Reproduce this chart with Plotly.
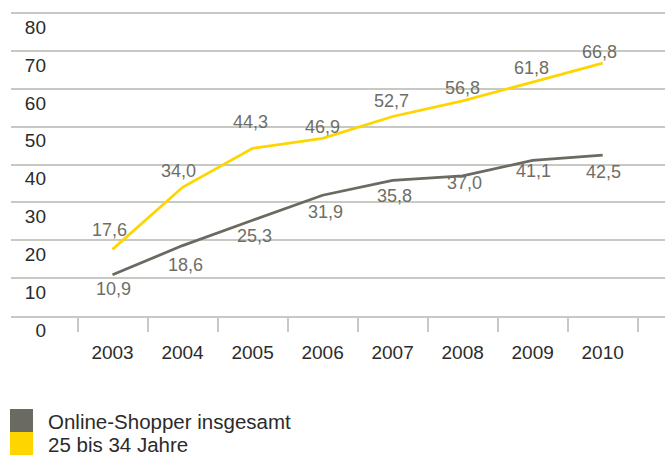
import plotly.graph_objects as go

years = ["2003", "2004", "2005", "2006", "2007", "2008", "2009", "2010"]
total = [10.9, 18.6, 25.3, 31.9, 35.8, 37.0, 41.1, 42.5]
young = [17.6, 34.0, 44.3, 46.9, 52.7, 56.8, 61.8, 66.8]
series_names = ["Online-Shopper insgesamt", "25 bis 34 Jahre"]
y_ticks = [0, 10, 20, 30, 40, 50, 60, 70, 80]

# label offsets in px (style)
young_dx = [-3, -4, -2.5, 0, -1.5, 0, -1.5, -3.5]
young_dy = [19.5, 16.5, 26.5, 11, 15, 13, 14, 11.5]
total_dx = [0.5, 2.5, 1.5, 2.5, 1.5, 1.5, 0.5, 0.5]
total_dy = [-14.3, -19.4, -15.8, -16.8, -15.5, -7.1, -10.6, -16.9]

GRAY = "#6a6a62"
LABEL = "#6e6e66"
YELLOW = "#ffd500"
GRID = "#c9c9c4"
TXT = "#2b2b2b"
FONT = "Liberation Sans, Arial, sans-serif"

W, H = 665, 455
L, R, T, B = 11, 0, 12, 139
pw, ph = W - L - R, H - T - B

def px2paper_x(px):
    return (px - L) / pw

def px2paper_y(py):
    return (H - B - py) / ph

fig = go.Figure()
fig.add_trace(go.Scatter(x=years, y=total, mode="lines", line=dict(color=GRAY, width=2.8),
                         name=series_names[0], showlegend=False, hoverinfo="skip"))
fig.add_trace(go.Scatter(x=years, y=young, mode="lines", line=dict(color=YELLOW, width=2.8),
                         name=series_names[1], showlegend=False, hoverinfo="skip"))

annotations = []
for i, yr in enumerate(years):
    annotations.append(dict(x=i, y=young[i], xref="x", yref="y", text=f"{young[i]:.1f}".replace(".", ","),
                            showarrow=False, xshift=young_dx[i], yshift=young_dy[i],
                            font=dict(family=FONT, size=18, color=LABEL)))
    annotations.append(dict(x=i, y=total[i], xref="x", yref="y", text=f"{total[i]:.1f}".replace(".", ","),
                            showarrow=False, xshift=total_dx[i], yshift=total_dy[i],
                            font=dict(family=FONT, size=18, color=LABEL)))

# legend
leg_colors = [GRAY, YELLOW]
leg_tops = [409, 432]
shapes = []
for c, top, name in zip(leg_colors, leg_tops, series_names):
    shapes.append(dict(type="rect", xref="paper", yref="paper",
                       x0=px2paper_x(10), x1=px2paper_x(33),
                       y0=px2paper_y(top), y1=px2paper_y(top + 23),
                       fillcolor=c, line=dict(width=0), layer="above"))
    annotations.append(dict(x=px2paper_x(46), y=px2paper_y(top + 12), xref="paper", yref="paper",
                            xanchor="left", yanchor="middle", text=name, showarrow=False,
                            font=dict(family=FONT, size=20.5, color=TXT)))

fig.update_layout(
    width=W, height=H,
    margin=dict(l=L, r=R, t=T, b=B, pad=0),
    paper_bgcolor="white", plot_bgcolor="white",
    font=dict(family=FONT, size=19, color=TXT),
    xaxis=dict(type="category", range=[-1.45, 7.89], tickson="boundaries",
               ticks="outside", ticklen=14, tickwidth=1.5, tickcolor=GRID,
               showgrid=False, showline=True, linecolor=GRID, linewidth=1.5,
               ticklabelstandoff=18, zeroline=False, fixedrange=True,
               tickfont=dict(size=19)),
    yaxis=dict(range=[0, 80.3], tickvals=y_ticks, ticktext=[str(v) for v in y_ticks],
               showgrid=True, gridcolor=GRID, gridwidth=1.5, zeroline=False,
               ticks="", showline=False, ticklabelstandoff=-36, ticklabelshift=14,
               fixedrange=True, tickfont=dict(size=19)),
    annotations=annotations,
    shapes=shapes,
)

fig.write_html("out.html")
